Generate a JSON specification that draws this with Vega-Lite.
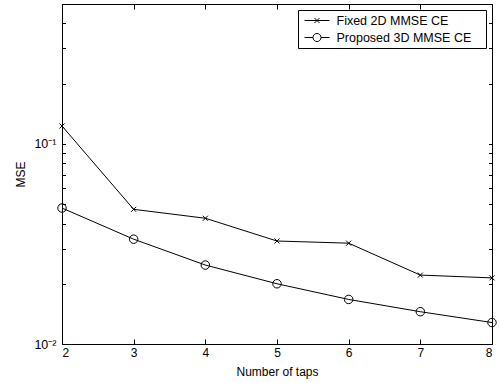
{
  "$schema": "https://vega.github.io/schema/vega-lite/v6.json",
  "width": 430,
  "height": 340,
  "autosize": "none",
  "padding": {"left": 62, "top": 4, "right": 8, "bottom": 39},
  "background": "white",
  "config": {
    "view": {"stroke": "black", "strokeWidth": 1},
    "font": "Liberation Sans",
    "axis": {"domain": false, "grid": false, "tickColor": "black", "labelColor": "black", "titleColor": "black", "labelFont": "Liberation Sans", "titleFont": "Liberation Sans", "labelFontSize": 12, "titleFontSize": 12, "titleFontWeight": "normal", "tickWidth": 1}
  },
  "data": {
    "values": [
      {"taps": 2, "mse": 0.1228, "series": "Fixed 2D MMSE CE"},
      {"taps": 3, "mse": 0.0471, "series": "Fixed 2D MMSE CE"},
      {"taps": 4, "mse": 0.0425, "series": "Fixed 2D MMSE CE"},
      {"taps": 5, "mse": 0.0327, "series": "Fixed 2D MMSE CE"},
      {"taps": 6, "mse": 0.0319, "series": "Fixed 2D MMSE CE"},
      {"taps": 7, "mse": 0.0221, "series": "Fixed 2D MMSE CE"},
      {"taps": 8, "mse": 0.0214, "series": "Fixed 2D MMSE CE"},
      {"taps": 2, "mse": 0.0478, "series": "Proposed 3D MMSE CE"},
      {"taps": 3, "mse": 0.0334, "series": "Proposed 3D MMSE CE"},
      {"taps": 4, "mse": 0.0248, "series": "Proposed 3D MMSE CE"},
      {"taps": 5, "mse": 0.0200, "series": "Proposed 3D MMSE CE"},
      {"taps": 6, "mse": 0.0167, "series": "Proposed 3D MMSE CE"},
      {"taps": 7, "mse": 0.0145, "series": "Proposed 3D MMSE CE"},
      {"taps": 8, "mse": 0.0128, "series": "Proposed 3D MMSE CE"}
    ]
  },
  "layer": [
    {
      "mark": {"type": "line", "color": "black", "strokeWidth": 1},
      "encoding": {
        "x": {"field": "taps", "type": "quantitative", "scale": {"domain": [2, 8], "nice": false, "zero": false},
          "axis": {"orient": "bottom", "values": [2, 3, 4, 5, 6, 7, 8], "title": "Number of taps", "tickSize": -5, "labelPadding": 8, "titlePadding": 8}},
        "y": {"field": "mse", "type": "quantitative", "scale": {"type": "log", "domain": [0.01, 0.5], "nice": false},
          "axis": {"orient": "left", "values": [0.01, 0.02, 0.03, 0.04, 0.05, 0.06, 0.07, 0.08, 0.09, 0.1, 0.2, 0.3, 0.4, 0.5],
            "labelExpr": "datum.value == 0.1 ? '10⁻¹' : datum.value == 0.01 ? '10⁻²' : ''", "labelFontSize": 12.5, "tickSize": -3.5, "labelPadding": 9.5, "title": "MSE", "titlePadding": 6}},
        "detail": {"field": "series"}
      }
    },
    {
      "mark": {"type": "point", "filled": false, "color": "black", "strokeWidth": 1, "size": 72, "opacity": 1},
      "encoding": {
        "x": {"field": "taps", "type": "quantitative", "axis": null},
        "y": {"field": "mse", "type": "quantitative", "axis": null},
        "shape": {"field": "series", "type": "nominal",
          "scale": {"domain": ["Fixed 2D MMSE CE", "Proposed 3D MMSE CE"], "range": ["M-0.59,-0.59L0.59,0.59M-0.59,0.59L0.59,-0.59", "circle"]},
          "legend": null}
      }
    },
    {
      "mark": {"type": "point", "filled": false, "color": "black", "strokeWidth": 1, "opacity": 0},
      "encoding": {
        "x": {"field": "taps", "type": "quantitative",
          "axis": {"orient": "top", "values": [2, 3, 4, 5, 6, 7, 8], "labels": false, "title": null, "tickSize": -5}},
        "y": {"field": "mse", "type": "quantitative",
          "axis": {"orient": "right", "values": [0.01, 0.02, 0.03, 0.04, 0.05, 0.06, 0.07, 0.08, 0.09, 0.1, 0.2, 0.3, 0.4, 0.5], "labels": false, "title": null, "tickSize": -3.5}},
        "shape": {"field": "series", "type": "nominal",
          "scale": {"domain": ["Fixed 2D MMSE CE", "Proposed 3D MMSE CE"],
            "range": ["M-2.08,0H2.08M-0.42,-0.42L0.42,0.42M-0.42,0.42L0.42,-0.42", "M-2.08,0H-0.67M0.67,0H2.08M-0.67,0A0.67,0.67 0 1,1 0.67,0A0.67,0.67 0 1,1 -0.67,0"]},
          "legend": {"title": null, "orient": "none", "legendX": 236, "legendY": 6, "strokeColor": "black", "fillColor": "white", "padding": 4,
            "symbolSize": 144, "symbolStrokeWidth": 1, "symbolOpacity": 1, "symbolStrokeColor": "black", "symbolFillColor": "transparent",
            "symbolOffset": 8.5, "labelOffset": 13, "labelFontSize": 12.5, "labelFont": "Liberation Sans", "labelColor": "black",
            "rowPadding": 4, "labelLimit": 300, "labelExpr": "datum.label + '\u2800'", "cornerRadius": 0}}
      }
    }
  ],
  "resolve": {"scale": {"shape": "independent"}, "axis": {"x": "independent", "y": "independent"}}
}
